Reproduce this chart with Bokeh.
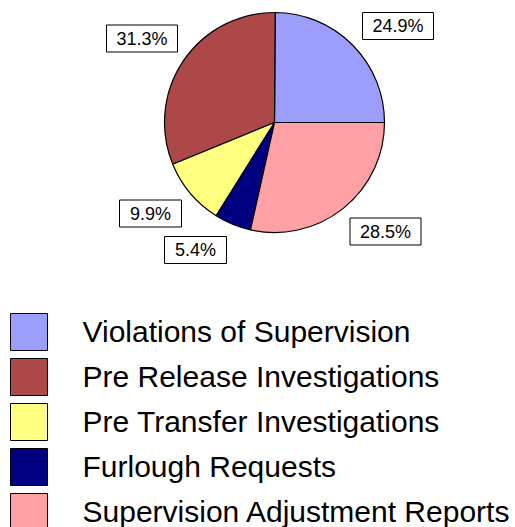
from bokeh.plotting import figure
from bokeh.models import Range1d, ColumnDataSource
from bokeh.core.properties import value
from bokeh.embed import file_html
from bokeh.resources import INLINE
import math

# ---- data ----
categories = ["Violations of Supervision", "Pre Release Investigations",
              "Pre Transfer Investigations", "Furlough Requests",
              "Supervision Adjustment Reports"]
shares = [24.9, 31.3, 9.9, 5.4, 28.5]
colors = ["#9d9dfc", "#ad4848", "#ffff80", "#000080", "#ffa0a4"]

# ---- layout (screen pixels of the page) ----
W, H = 515, 527
PAGE_H = 527
def sy(y):
    return PAGE_H - y

cx, cy, r = 274, 122, 110
label_pos = [(397.5, 25.5), (141.5, 38), (150, 213), (195, 249.5), (385, 231)]
leg_x0, leg_y0, leg_step, sq = 10, 313, 45, 37
leg_text_x = 82

p = figure(width=W, height=H, output_backend="svg", toolbar_location=None,
           x_range=Range1d(0, W), y_range=Range1d(PAGE_H - H, PAGE_H),
           min_border=0, background_fill_color="white", border_fill_color="white")
p.axis.visible = False
p.grid.visible = False
p.outline_line_color = None

# wedges
total = sum(shares)
starts, ends = [], []
acc = 0.0
for v in shares:
    starts.append(2 * math.pi * acc / total)
    acc += v
    ends.append(2 * math.pi * acc / total)
src = ColumnDataSource(dict(start=starts, end=ends, color=colors, cat=categories))
p.wedge(x=cx, y=sy(cy), radius=r, start_angle="start", end_angle="end",
        fill_color="color", line_color="black", line_width=1.2, source=src)

# value labels in boxes
labels = [f"{v:.1f}%" for v in shares]
lx = [pt[0] for pt in label_pos]
ly = [sy(pt[1]) for pt in label_pos]
lw = [26 + 9 * len(t) for t in labels]
p.rect(x=lx, y=ly, width=lw, height=27, fill_color="white",
       line_color="black", line_width=1)
p.text(x=lx, y=ly, text=labels, text_font=value("Liberation Sans"),
       text_font_size="18px", text_align="center", text_baseline="middle",
       text_color="black")

# legend
rows = list(range(len(categories)))
sq_x = [leg_x0 + sq / 2 for _ in rows]
sq_y = [sy(leg_y0 + i * leg_step + sq / 2) for i in rows]
p.rect(x=sq_x, y=sq_y, width=sq, height=sq, fill_color=colors,
       line_color="black", line_width=1)
p.text(x=[leg_text_x for _ in rows], y=[y + 1 for y in sq_y], text=categories,
       text_font=value("Liberation Sans"), text_font_size="30px",
       text_align="left", text_baseline="middle", text_color="black")

open("out.html", "w").write(file_html(p, INLINE))
